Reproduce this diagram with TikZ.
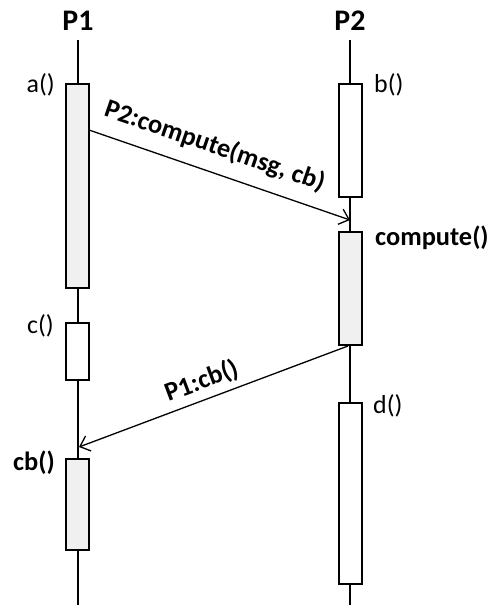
\documentclass[tikz,border=0pt]{standalone}
\usepackage{fontspec}
\setmainfont{Carlito}
\usetikzlibrary{arrows.meta}
\begin{document}
\begin{tikzpicture}[x=1bp,y=-1bp,
  lifeline/.style={line width=1.3bp},
  actbox/.style={draw, line width=1.6bp, rectangle, inner sep=0pt, minimum width=23bp},
  busy/.style={actbox, fill=black!6},
  idle/.style={actbox, fill=white},
  lbl/.style={inner sep=0pt, font=\fontsize{26}{29}\selectfont},
  blbl/.style={inner sep=0pt, font=\fontsize{26.5}{29}\selectfont\bfseries},
  head/.style={inner sep=0pt, font=\fontsize{30}{34}\selectfont\bfseries},
  msg/.style={line width=1.3bp, -{Straight Barb[length=9bp,width=16bp,line width=1.3bp]}}]
\useasboundingbox (0,0) rectangle (489,605);
% heads
\node[head] (p1) at (78,21) {P1};
\node[head] (p2) at (350,21) {P2};
\coordinate (p1top) at (78,40);
\coordinate (p1bot) at (78,605);
\coordinate (p2top) at (350,40);
\coordinate (p2bot) at (350,605);
\draw[lifeline] (p1top) -- (p1bot);
\draw[lifeline] (p2top) -- (p2bot);
% activation boxes
\node[busy, minimum height=204bp] (a) at (77.5,186) {};
\node[idle, minimum height=113bp] (b) at (350.5,140.5) {};
\node[busy, minimum height=113bp] (comp) at (350.5,288.5) {};
\node[idle, minimum height=57bp] (c) at (77.5,351.5) {};
\node[busy, minimum height=91bp] (cb) at (77.5,504.5) {};
\node[idle, minimum height=181bp] (d) at (350.5,493.5) {};
% labels
\node[lbl, anchor=east] (la) at (55,85) {a()};
\node[lbl, anchor=west] (lb) at (374,85) {b()};
\node[blbl, anchor=west] (lcomp) at (375,238) {compute()};
\node[lbl, anchor=east] (lc) at (54,326) {c()};
\node[lbl, anchor=west] (ld) at (373,406) {d()};
\node[blbl, anchor=east] (lcb) at (55,463) {cb()};
% messages
\coordinate (m1s) at (89,130);
\coordinate (m1e) at (350,220);
\coordinate (m2s) at (348,346);
\coordinate (m2e) at (79,447);
\draw[msg] (m1s) -- node[blbl, sloped, above=13bp, pos=0.45] (m1l) {P2:compute(msg, cb)} (m1e);
\draw[msg] (m2s) -- node[blbl, sloped, above=6bp, pos=0.52] (m2l) {P1:cb()} (m2e);
\end{tikzpicture}
\end{document}
